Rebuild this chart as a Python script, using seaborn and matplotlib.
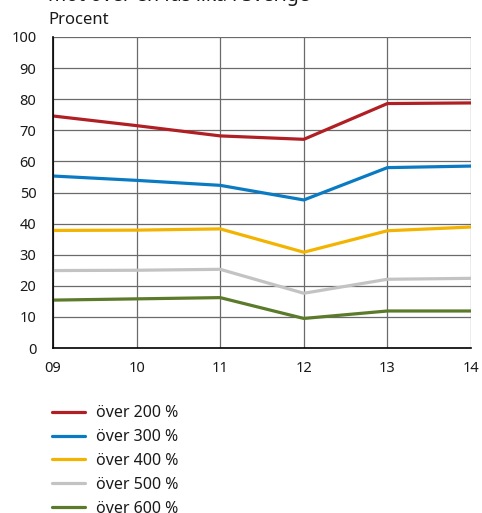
import matplotlib
matplotlib.use("Agg")
import matplotlib.pyplot as plt
import seaborn as sns
import pandas as pd

# Data
years = ["09", "10", "11", "12", "13", "14"]
over_200 = [74.6, 71.5, 68.2, 67.1, 78.6, 78.8]
over_300 = [55.3, 53.9, 52.3, 47.6, 58.0, 58.5]
over_400 = [37.8, 37.9, 38.3, 30.8, 37.7, 38.9]
over_500 = [24.9, 25.0, 25.3, 17.6, 22.1, 22.4]
over_600 = [15.4, 15.8, 16.2, 9.5, 11.9, 11.9]
series_names = ["över 200 %", "över 300 %", "över 400 %", "över 500 %", "över 600 %"]
colors = ["#b01f24", "#0a7bc2", "#f2b400", "#c3c3c3", "#5b7b2a"]
y_ticks = [0, 10, 20, 30, 40, 50, 60, 70, 80, 90, 100]
title_text = "mot över en fas lika i Sverige"

rows = []
for name, vals in zip(series_names, [over_200, over_300, over_400, over_500, over_600]):
    for i, v in enumerate(vals):
        rows.append({"pos": i, "year": years[i], "value": v, "serie": name})
df = pd.DataFrame(rows)

sns.set_theme(style="white")
plt.rcParams["font.family"] = ["Noto Sans", "DejaVu Sans"]
plt.rcParams["text.color"] = "#1a1a1a"

fig = plt.figure(figsize=(4.82, 5.13), dpi=100)
W, H = 482, 513
ax = fig.add_axes([53 / W, 1 - 348 / H, (471 - 53) / W, (348 - 37) / H])

sns.lineplot(data=df, x="pos", y="value", hue="serie", palette=colors,
             hue_order=series_names, linewidth=2.3, ax=ax, legend=False,
             sort=False, estimator=None)

ax.set_xlim(0, len(years) - 1)
ax.set_ylim(0, 100)
ax.set_xticks(range(len(years)))
ax.set_xticklabels(years)
ax.set_yticks(y_ticks)
ax.set_xlabel("")
ax.set_ylabel("")
ax.grid(True, color="#6a6a6a", linewidth=0.9)
ax.set_axisbelow(True)
for s in ["top", "right"]:
    ax.spines[s].set_visible(False)
for s in ["left", "bottom"]:
    ax.spines[s].set_color("black")
    ax.spines[s].set_linewidth(1.2)
ax.tick_params(axis="both", length=0, labelsize=10.5, colors="#1a1a1a")
ax.tick_params(axis="x", pad=9)
ax.tick_params(axis="y", pad=12)

# Header texts
fig.text(48 / W, 1 - 1 / H, title_text, fontsize=14, fontweight="bold",
         ha="left", va="baseline")
fig.text(48 / W, 1 - 24 / H, "Procent", fontsize=12, ha="left", va="baseline")

# Legend below the plot
handles = [plt.Line2D([], [], color=c, linewidth=2.3) for c in colors]
fig.legend(handles, series_names, loc="upper left",
           bbox_to_anchor=(46 / W, 1 - 399 / H), frameon=False,
           fontsize=11.5, handlelength=2.07, handletextpad=0.69,
           labelspacing=0.49, borderaxespad=0)

fig.savefig("out.png", dpi=100)
